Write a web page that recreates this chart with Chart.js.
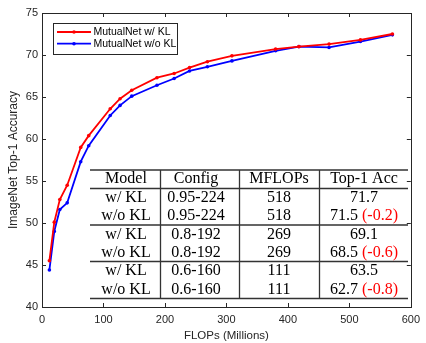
<!DOCTYPE html>
<html>
<head>
<meta charset="utf-8">
<script src="https://cdn.jsdelivr.net/npm/chart.js@4.4.1/dist/chart.umd.min.js"></script>
<style>
  html, body { margin: 0; padding: 0; background: #fff; }
</style>
</head>
<body>
<canvas id="chart" width="426" height="343"></canvas>
<script>
// ===== DATA =====
const flops = [12, 20, 29, 41, 63, 76, 111, 127, 146, 187, 215, 240, 269, 309, 380, 418, 467, 518, 570];
const accKL = [45.5, 50.1, 52.8, 54.5, 59.0, 60.4, 63.6, 64.8, 65.8, 67.3, 67.8, 68.5, 69.2, 69.9, 70.7, 71.0, 71.3, 71.8, 72.5];
const accNoKL = [44.4, 49.0, 51.6, 52.4, 57.3, 59.2, 62.8, 64.0, 65.1, 66.4, 67.2, 68.1, 68.6, 69.3, 70.5, 71.0, 70.9, 71.6, 72.4];
const seriesLabels = ["MutualNet w/ KL", "MutualNet w/o KL"];

// table inside the plot
const tableHeader = ["Model", "Config", "MFLOPs", "Top-1 Acc"];
const tableModel = ["w/ KL", "w/o KL", "w/ KL", "w/o KL", "w/ KL", "w/o KL"];
const tableConfig = ["0.95-224", "0.95-224", "0.8-192", "0.8-192", "0.6-160", "0.6-160"];
const tableFlops = ["518", "518", "269", "269", "111", "111"];
const tableAcc = ["71.7", "71.5", "69.1", "68.5", "63.5", "62.7"];
const tableDelta = ["", "(-0.2)", "", "(-0.6)", "", "(-0.8)"];

const axisColor = "#262626";
const sansFont = "'Liberation Sans', Arial, Helvetica, sans-serif";

// ===== MATLAB style box with inward ticks =====
const framePlugin = {
    id: "frame",
    afterDraw(chart) {
        const { ctx, chartArea: a, scales: { x, y } } = chart;
        ctx.save();
        ctx.strokeStyle = axisColor;
        ctx.lineWidth = 1;
        ctx.strokeRect(Math.round(a.left) + 0.5, Math.round(a.top) + 0.5,
            Math.round(a.right - a.left), Math.round(a.bottom - a.top));
        ctx.beginPath();
        x.ticks.forEach(t => {
            const px = Math.round(x.getPixelForValue(t.value)) + 0.5;
            ctx.moveTo(px, a.bottom); ctx.lineTo(px, a.bottom - 4);
            ctx.moveTo(px, a.top); ctx.lineTo(px, a.top + 4);
        });
        y.ticks.forEach(t => {
            const py = Math.round(y.getPixelForValue(t.value)) + 0.5;
            ctx.moveTo(a.left, py); ctx.lineTo(a.left + 4, py);
            ctx.moveTo(a.right, py); ctx.lineTo(a.right - 4, py);
        });
        ctx.stroke();
        ctx.restore();
    }
};

// ===== Legend box =====
const legendPlugin = {
    id: "boxLegend",
    afterDraw(chart) {
        const { ctx } = chart;
        ctx.save();
        ctx.fillStyle = "#fff";
        ctx.fillRect(53, 23, 124, 31);
        ctx.strokeStyle = axisColor;
        ctx.lineWidth = 1;
        ctx.strokeRect(53.5, 23.5, 124, 31);
        ctx.font = "10.5px " + sansFont;
        ctx.textBaseline = "middle";
        chart.data.datasets.forEach((ds, i) => {
            const yy = 32 + i * 11.7;
            ctx.strokeStyle = ds.borderColor;
            ctx.lineWidth = 1.8;
            ctx.beginPath();
            ctx.moveTo(57, yy); ctx.lineTo(91, yy);
            ctx.stroke();
            ctx.fillStyle = ds.borderColor;
            ctx.beginPath();
            ctx.arc(74, yy, 1.8, 0, Math.PI * 2);
            ctx.fill();
            ctx.fillStyle = "#000";
            ctx.fillText(ds.label, 93.5, yy + 0.5);
        });
        ctx.restore();
    }
};

// ===== Results table =====
const tablePlugin = {
    id: "resultTable",
    afterDraw(chart) {
        const { ctx } = chart;
        const left = 90, right = 408;
        const hLines = [170, 188.5, 225, 261.5, 298.5];
        const vLines = [160.5, 239.5, 319.5];
        const colCenter = [126, 196, 279, 364];
        const rowCenter = [178, 196.7, 214.7, 233.5, 251.7, 270, 288.3];
        ctx.save();
        ctx.strokeStyle = "#333";
        ctx.lineWidth = 1.3;
        ctx.beginPath();
        hLines.forEach(h => { ctx.moveTo(left, h); ctx.lineTo(right, h); });
        vLines.forEach(v => { ctx.moveTo(v, hLines[0]); ctx.lineTo(v, hLines[hLines.length - 1]); });
        ctx.stroke();

        ctx.font = "16px 'Liberation Serif', 'Times New Roman', serif";
        ctx.textBaseline = "alphabetic";
        ctx.textAlign = "left";
        const put = (txt, cx, cy, color) => {
            const w = ctx.measureText(txt).width;
            ctx.fillStyle = color || "#000";
            ctx.fillText(txt, cx - w / 2, cy + 5.3);
        };
        tableHeader.forEach((h, c) => put(h, colCenter[c], rowCenter[0]));
        tableModel.forEach((m, r) => {
            const cy = rowCenter[r + 1];
            put(m, colCenter[0], cy);
            put(tableConfig[r], colCenter[1], cy);
            put(tableFlops[r], colCenter[2], cy);
            if (tableDelta[r]) {
                const a = tableAcc[r] + " ";
                const wa = ctx.measureText(a).width;
                const wd = ctx.measureText(tableDelta[r]).width;
                const x0 = colCenter[3] - (wa + wd) / 2;
                ctx.fillStyle = "#000";
                ctx.fillText(a, x0, cy + 5.3);
                ctx.fillStyle = "#ff0000";
                ctx.fillText(tableDelta[r], x0 + wa, cy + 5.3);
            } else {
                put(tableAcc[r], colCenter[3], cy);
            }
        });
        ctx.restore();
    }
};

// ===== CHART =====
const tickFont = { family: sansFont, size: 11 };

new Chart(document.getElementById("chart"), {
    type: "line",
    data: {
        datasets: [
            {
                label: seriesLabels[0],
                data: flops.map((f, i) => ({ x: f, y: accKL[i] })),
                borderColor: "#ff0000",
                backgroundColor: "#ff0000",
                borderWidth: 1.8,
                pointRadius: 1.8,
                pointBorderWidth: 0,
                pointHoverRadius: 1.8,
                tension: 0
            },
            {
                label: seriesLabels[1],
                data: flops.map((f, i) => ({ x: f, y: accNoKL[i] })),
                borderColor: "#0000ff",
                backgroundColor: "#0000ff",
                borderWidth: 1.8,
                pointRadius: 1.8,
                pointBorderWidth: 0,
                pointHoverRadius: 1.8,
                tension: 0
            }
        ]
    },
    options: {
        responsive: false,
        animation: false,
        layout: { padding: { top: 13, right: 11, left: 0, bottom: 0 } },
        scales: {
            x: {
                type: "linear",
                min: 0,
                max: 600,
                ticks: { stepSize: 100, padding: 6, color: axisColor, font: tickFont, maxRotation: 0 },
                grid: { display: false, drawTicks: false },
                border: { display: false },
                title: {
                    display: true,
                    text: "FLOPs (Millions)",
                    color: axisColor,
                    font: { family: sansFont, size: 11.5 },
                    padding: { top: 0, bottom: 0 }
                },
                afterFit(scale) { scale.height = 36; }
            },
            y: {
                min: 40,
                max: 75,
                ticks: { stepSize: 5, padding: 4, color: axisColor, font: tickFont },
                grid: { display: false, drawTicks: false },
                border: { display: false },
                title: {
                    display: true,
                    text: "ImageNet Top-1 Accuracy",
                    color: axisColor,
                    font: { family: sansFont, size: 12 },
                    padding: { top: 6, bottom: 0 }
                },
                afterFit(scale) { scale.width = 42; }
            }
        },
        plugins: {
            legend: { display: false },
            tooltip: { enabled: false }
        }
    },
    plugins: [framePlugin, legendPlugin, tablePlugin]
});
</script>
</body>
</html>
